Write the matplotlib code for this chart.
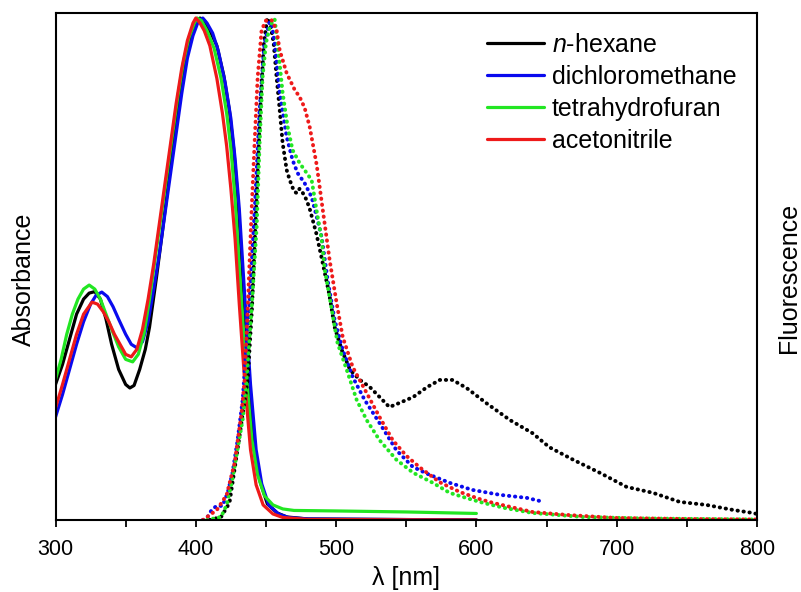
import numpy as np
import matplotlib
matplotlib.use("Agg")
import matplotlib.pyplot as plt
from matplotlib.ticker import MultipleLocator

plt.rcParams['font.family'] = ['Liberation Sans', 'DejaVu Sans']
plt.rcParams['mathtext.fontset'] = 'custom'
plt.rcParams['mathtext.it'] = 'Liberation Sans:italic'
plt.rcParams['mathtext.rm'] = 'Liberation Sans'

solvents = ['$\\mathit{n}$-hexane', 'dichloromethane', 'tetrahydrofuran', 'acetonitrile']
colors = ['#000000', '#0a0aee', '#22e622', '#ee1a1a']

#absorption spectra (normalised)
abs_wl_hex = [300,305,310,315,320,324,328,332,336,340,345,350,353,356,360,364,367,372,376,380,384,388,392,396,400,403,406,410,415,420,424,427,430,434,438,442,446,451,458,465,480,600]
abs_hex = [0.27,0.31,0.36,0.41,0.44,0.452,0.455,0.44,0.40,0.35,0.30,0.27,0.263,0.268,0.30,0.34,0.384,0.484,0.57,0.66,0.75,0.83,0.90,0.955,0.99,1.0,0.995,0.975,0.945,0.885,0.815,0.74,0.64,0.46,0.28,0.145,0.075,0.032,0.014,0.006,0.002,0.0]

abs_wl_dcm = [300,305,310,315,320,325,329,333,337,341,345,350,354,358,362,366,370,374,378,382,386,390,394,398,402,405,408,412,416,421,425,428,431,435,439,443,447,452,459,466,480,600]
abs_dcm = [0.205,0.25,0.30,0.35,0.395,0.43,0.448,0.454,0.445,0.425,0.40,0.37,0.35,0.343,0.355,0.395,0.46,0.53,0.61,0.69,0.77,0.85,0.92,0.965,0.995,1.0,0.99,0.97,0.935,0.87,0.80,0.72,0.62,0.44,0.27,0.14,0.072,0.03,0.012,0.005,0.002,0.0]

abs_wl_thf = [300,304,308,312,316,320,324,328,332,336,340,345,350,355,359,363,367,371,375,379,383,387,391,395,399,401,404,408,413,418,422,425,428,432,436,440,444,449,455,462,470,500,550,600]
abs_thf = [0.28,0.32,0.37,0.41,0.44,0.46,0.468,0.46,0.44,0.41,0.38,0.345,0.32,0.315,0.33,0.37,0.44,0.52,0.60,0.68,0.76,0.84,0.91,0.96,0.99,1.0,0.995,0.975,0.94,0.88,0.81,0.74,0.64,0.46,0.29,0.16,0.09,0.048,0.03,0.022,0.019,0.018,0.016,0.013]

abs_wl_mecn = [300,305,310,315,320,326,330,334,338,342,346,350,354,358,362,366,370,374,378,382,386,390,394,398,400,403,406,410,415,419,422,425,428,431,435,439,443,448,455,462,480,600]
abs_mecn = [0.223,0.27,0.32,0.37,0.41,0.434,0.43,0.415,0.395,0.37,0.35,0.33,0.325,0.34,0.38,0.44,0.51,0.59,0.67,0.75,0.83,0.90,0.955,0.99,1.0,0.99,0.975,0.945,0.88,0.81,0.745,0.66,0.56,0.43,0.27,0.14,0.07,0.03,0.012,0.005,0.001,0.0]

#fluorescence spectra (normalised)
fl_wl_hex = [410,418,424,430,437,440,443,446,448.5,451,453,455.5,457.6,459.8,461.9,464.8,467,470,472,474,476,478.5,481,486,490,495,499,504,510,517,524,531,538,545,555,565,574,583,593,607,624,640,652,669,688,707,726,745,764,783,797,800]
fl_hex = [0.0,0.006,0.034,0.145,0.28,0.42,0.62,0.82,0.95,1.0,0.99,0.95,0.882,0.817,0.751,0.697,0.677,0.655,0.651,0.66,0.653,0.64,0.622,0.57,0.518,0.452,0.384,0.339,0.299,0.279,0.265,0.245,0.225,0.233,0.245,0.265,0.279,0.279,0.263,0.233,0.199,0.173,0.145,0.12,0.094,0.066,0.054,0.036,0.03,0.02,0.014,0.012]

fl_wl_dcm = [405,408.4,411.3,414.8,419,422.7,426.2,429.8,433.4,438,442,445.5,449,452.6,454,456.2,459.8,464.8,469,472.6,477.6,482.6,486.2,489.7,494,499,504.7,511.8,520.4,531,543,554.6,565,581,597,617,636,648]
fl_dcm = [0.0,0.006,0.02,0.028,0.028,0.054,0.094,0.159,0.239,0.42,0.618,0.817,0.95,0.992,0.99,0.95,0.851,0.763,0.717,0.691,0.671,0.643,0.604,0.564,0.478,0.398,0.339,0.285,0.239,0.193,0.139,0.106,0.092,0.074,0.06,0.05,0.044,0.036]

fl_wl_thf = [408,418,422,426,433.4,436.2,440,443.4,445.5,447.6,450,453,456.2,458.3,461.9,465.5,469,474,477.6,482.6,486.5,489.7,492,497,501,507.6,514.7,521.8,531,543,555,569,581,595,605,620,640,676,720,800]
fl_thf = [0.0,0.006,0.03,0.08,0.2,0.279,0.43,0.584,0.751,0.882,0.95,0.985,0.998,0.95,0.851,0.783,0.737,0.711,0.697,0.677,0.61,0.56,0.498,0.418,0.353,0.299,0.239,0.199,0.159,0.12,0.094,0.074,0.054,0.042,0.034,0.024,0.014,0.006,0.003,0.001]

fl_wl_mecn = [405,408,415,422,427.7,432.6,434.8,437,439.8,441.9,444.1,446.9,450,454,457.6,459.8,464.8,470.5,474,477.6,481.2,486.2,490.4,495.4,500.4,504.7,511.8,521.8,531,540.4,550,560,574,588,602,612,640,665,700,750,800]
fl_mecn = [0.0,0.006,0.02,0.05,0.114,0.213,0.279,0.42,0.618,0.751,0.882,0.976,0.995,0.996,0.976,0.936,0.89,0.857,0.843,0.821,0.783,0.707,0.62,0.518,0.432,0.365,0.305,0.253,0.205,0.159,0.128,0.104,0.075,0.056,0.042,0.034,0.016,0.01,0.004,0.002,0.001]

abs_data = [(abs_wl_hex, abs_hex), (abs_wl_dcm, abs_dcm), (abs_wl_thf, abs_thf), (abs_wl_mecn, abs_mecn)]
fl_data = [(fl_wl_hex, fl_hex), (fl_wl_dcm, fl_dcm), (fl_wl_thf, fl_thf), (fl_wl_mecn, fl_mecn)]

fig = plt.figure(figsize=(8.01, 5.92), dpi=100)
ax = fig.add_axes([0.0693, 0.1208, 0.8757, 0.8572])

for (wl, a), c, lab in zip(abs_data, colors, solvents):
    ax.plot(wl, a, color=c, lw=2.3, label=lab, solid_capstyle='round')
for (wl, f), c in zip(fl_data, colors):
    ax.plot(wl, f, color=c, lw=2.8, linestyle=(0, (0.1, 1.45)), dash_capstyle='round')

ax.set_xlim(300, 800)
ax.set_ylim(-0.001, 1.01)
ax.xaxis.set_major_locator(MultipleLocator(100))
ax.xaxis.set_minor_locator(MultipleLocator(50))
ax.tick_params(axis='x', which='both', direction='out', length=5, width=1.3, labelsize=15.5, pad=8, top=False)
ax.tick_params(axis='y', which='both', left=False, right=False, labelleft=False)
for s in ax.spines.values():
    s.set_linewidth(1.5)

ax.set_xlabel('λ [nm]', fontsize=18, labelpad=4.5)
fig.text(0.030, 0.529, 'Absorbance', rotation=90, ha='center', va='center', fontsize=18)
fig.text(0.985, 0.530, 'Fluorescence', rotation=90, ha='center', va='center', fontsize=18)

ax.legend(loc='upper left', bbox_to_anchor=(0.615, 0.961), frameon=False, fontsize=18,
          handlelength=2.3, handletextpad=0.3, labelspacing=0.32, borderpad=0, borderaxespad=0)

fig.savefig('out.png', dpi=100)
